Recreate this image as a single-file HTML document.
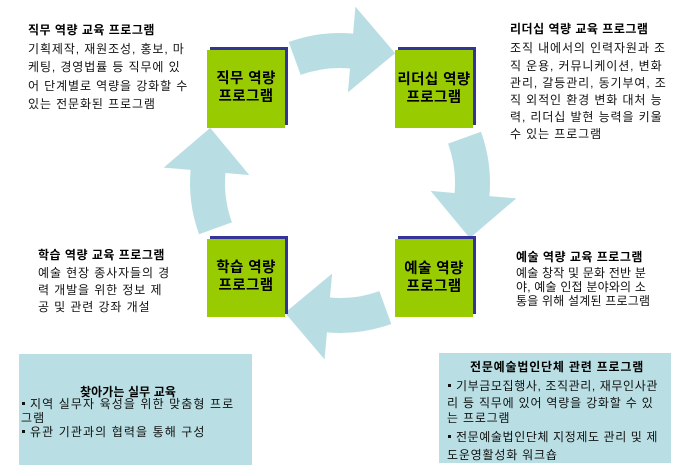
<!DOCTYPE html>
<html>
<head>
<meta charset="utf-8">
<style>
  html,body{margin:0;padding:0;}
  body{width:698px;height:476px;position:relative;background:#fff;overflow:hidden;
       font-family:"Liberation Sans","Noto Sans CJK KR",sans-serif;color:#111;}
  .t{position:absolute;font-size:12px;line-height:16px;white-space:nowrap;letter-spacing:0.9px;}
  .b{font-weight:bold;color:#000;letter-spacing:0.5px;}
  .lbl{position:absolute;width:84px;text-align:center;font-weight:bold;font-size:14.5px;
       line-height:17.5px;color:#000;white-space:nowrap;letter-spacing:0.4px;}
  .pnl{position:absolute;background:#b9dfe4;}
  .bul{display:inline-block;width:3px;height:3px;background:#111;vertical-align:middle;margin:0 5px 2px 1px;}
</style>
</head>
<body>
<svg width="698" height="476" style="position:absolute;left:0;top:0">
  <g fill="#b8dee4">
    <path transform="translate(340,183) rotate(0)" d="M -51.3 -140.95 A 150 150 0 0 1 13.07 -149.43 L 15.43 -176.33 L 55.09 -129.79 L 7.93 -90.65 L 10.02 -114.56 A 115 115 0 0 0 -39.33 -108.07 Z"/>
    <path transform="translate(340,183) rotate(90)" d="M -51.3 -140.95 A 150 150 0 0 1 13.07 -149.43 L 15.43 -176.33 L 55.09 -129.79 L 7.93 -90.65 L 10.02 -114.56 A 115 115 0 0 0 -39.33 -108.07 Z"/>
    <path transform="translate(340,183) rotate(180)" d="M -51.3 -140.95 A 150 150 0 0 1 13.07 -149.43 L 15.43 -176.33 L 55.09 -129.79 L 7.93 -90.65 L 10.02 -114.56 A 115 115 0 0 0 -39.33 -108.07 Z"/>
    <path transform="translate(340,183) rotate(270)" d="M -51.3 -140.95 A 150 150 0 0 1 13.07 -149.43 L 15.43 -176.33 L 55.09 -129.79 L 7.93 -90.65 L 10.02 -114.56 A 115 115 0 0 0 -39.33 -108.07 Z"/>
  </g>
  <g>
    <rect x="210" y="47" width="78" height="78" fill="#333399"/>
    <rect x="207" y="50" width="78" height="78" fill="#99cc00"/>
    <rect x="398" y="47" width="78" height="78" fill="#333399"/>
    <rect x="395" y="50" width="78" height="78" fill="#99cc00"/>
    <rect x="210" y="236" width="78" height="78" fill="#333399"/>
    <rect x="207" y="239" width="78" height="78" fill="#99cc00"/>
    <rect x="398" y="236" width="78" height="78" fill="#333399"/>
    <rect x="395" y="239" width="78" height="78" fill="#99cc00"/>
  </g>
</svg>

<!-- box labels -->
<div class="lbl" style="left:204px;top:71px;">직무 역량<br>프로그램</div>
<div class="lbl" style="left:392px;top:72px;">리더십 역량<br>프로그램</div>
<div class="lbl" style="left:204px;top:260px;">학습 역량<br>프로그램</div>
<div class="lbl" style="left:392px;top:261px;">예술 역량<br>프로그램</div>

<!-- job text -->
<div class="t b" style="left:28px;top:22px;">직무 역량 교육 프로그램</div>
<div class="t" style="left:28px;top:41px;">기획제작, 재원조성, 홍보, 마</div>
<div class="t" style="left:28px;top:59px;">케팅, 경영법률 등 직무에 있</div>
<div class="t" style="left:28px;top:78px;">어 단계별로 역량을 강화할 수</div>
<div class="t" style="left:28px;top:96px;">있는 전문화된 프로그램</div>

<!-- leadership text -->
<div class="t b" style="left:510px;top:21px;">리더십 역량 교육 프로그램</div>
<div class="t" style="left:510px;top:40px;">조직 내에서의 인력자원과 조</div>
<div class="t" style="left:510px;top:58px;">직 운용, 커뮤니케이션, 변화</div>
<div class="t" style="left:510px;top:75px;">관리, 갈등관리, 동기부여, 조</div>
<div class="t" style="left:510px;top:92px;">직 외적인 환경 변화 대처 능</div>
<div class="t" style="left:510px;top:109px;">력, 리더십 발현 능력을 키울</div>
<div class="t" style="left:510px;top:126px;">수 있는 프로그램</div>

<!-- learning text -->
<div class="t b" style="left:38px;top:247px;">학습 역량 교육 프로그램</div>
<div class="t" style="left:38px;top:265px;">예술 현장 종사자들의 경</div>
<div class="t" style="left:38px;top:282px;">력 개발을 위한 정보 제</div>
<div class="t" style="left:38px;top:299px;">공 및 관련 강좌 개설</div>

<!-- arts text -->
<div class="t b" style="left:516px;top:249px;">예술 역량 교육 프로그램</div>
<div class="t" style="left:516px;top:265px;letter-spacing:0.2px;">예술 창작 및 문화 전반 분</div>
<div class="t" style="left:516px;top:279px;letter-spacing:0.2px;">야, 예술 인접 분야와의 소</div>
<div class="t" style="left:516px;top:293px;letter-spacing:0.2px;">통을 위해 설계된 프로그램</div>

<!-- bottom-left panel -->
<div class="pnl" style="left:19px;top:354px;width:233px;height:111px;"></div>
<div class="t b" style="left:80px;top:384px;letter-spacing:0.1px;">찾아가는 실무 교육</div>
<div class="t" style="left:21px;top:396px;letter-spacing:1.1px;"><span class="bul"></span>지역 실무자 육성을 위한 맞춤형 프로</div>
<div class="t" style="left:21px;top:410px;letter-spacing:1.1px;">그램</div>
<div class="t" style="left:21px;top:424px;letter-spacing:1.1px;"><span class="bul"></span>유관 기관과의 협력을 통해 구성</div>

<!-- bottom-right panel -->
<div class="pnl" style="left:439px;top:353px;width:232px;height:110px;"></div>
<div class="t b" style="left:470px;top:359px;letter-spacing:0.8px;">전문예술법인단체 관련 프로그램</div>
<div class="t" style="left:447px;top:378px;letter-spacing:0.6px;"><span class="bul"></span>기부금모집행사, 조직관리, 재무인사관</div>
<div class="t" style="left:447px;top:395px;letter-spacing:0.8px;">리 등 직무에 있어 역량을 강화할 수 있</div>
<div class="t" style="left:447px;top:410px;letter-spacing:0.8px;">는 프로그램</div>
<div class="t" style="left:447px;top:429px;letter-spacing:0.6px;"><span class="bul"></span>전문예술법인단체 지정제도 관리 및 제</div>
<div class="t" style="left:447px;top:447px;letter-spacing:0.8px;">도운영활성화 워크숍</div>
</body>
</html>
